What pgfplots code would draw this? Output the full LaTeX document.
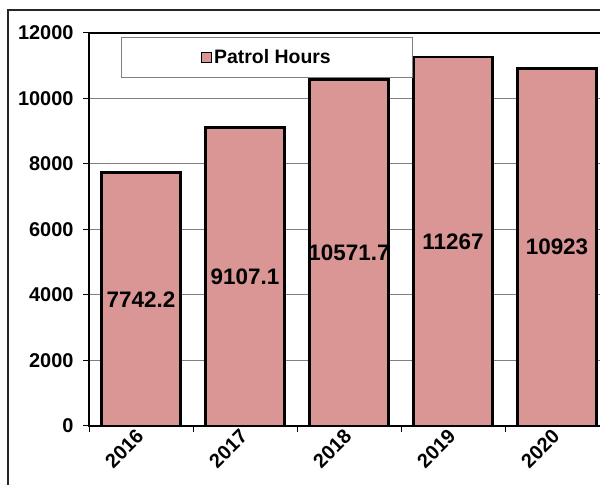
\documentclass[border=0pt]{standalone}
\usepackage{fontspec}
\setmainfont{Liberation Sans}
\usepackage{pgfplots}
\pgfplotsset{compat=1.18}
\usepackage{pgfplotstable}
\definecolor{barpink}{RGB}{217,150,148}

\pgfplotstableread{
x year y
0 2016 7742.2
1 2017 9107.1
2 2018 10571.7
3 2019 11267
4 2020 10923
}\patrol

\begin{document}
\begin{tikzpicture}[x=1bp,y=1bp]
\useasboundingbox (0,0) rectangle (600,485);
\clip (0,0) rectangle (600,485);
\draw[line width=1.6bp, black!85] (8,-5) -- (8,475) -- (610,475);
\begin{axis}[
    at={(89bp,59bp)}, anchor=south west,
    scale only axis, width=520bp, height=393bp,
    xmin=-0.5, xmax=4.5, ymin=0, ymax=12000,
    axis line style={line width=1.6bp},
    ytick={0,2000,...,12000},
    xtick={0,...,4}, xticklabels={2016,2017,2018,2019,2020},
    major x tick style={draw=none},
    minor xtick={-0.5,0.5,1.5,2.5,3.5,4.5},
    xtick pos=lower, ytick pos=left,
    tick align=outside, major tick length=6bp, minor tick length=6bp,
    every tick/.style={black, line width=1bp},
    ymajorgrids, grid style={gray, line width=1bp},
    scaled y ticks=false,
    /pgf/number format/assume math mode=true,
    /pgf/number format/1000 sep={},
    ticklabel style={font=\fontsize{20}{24}\selectfont\bfseries},
    yticklabel style={xshift=-6bp},
    xticklabel style={rotate=45, anchor=east, xshift=2bp},
    legend style={at={(0.0615,0.99)}, anchor=north west, draw=gray, line width=1bp,
        inner xsep=79.5bp, inner ysep=10.5bp,
        font=\fontsize{19.5}{22}\selectfont\bfseries},
    legend image code/.code={\draw[fill=barpink, draw=black, line width=1.2bp] (0bp,-5bp) rectangle (10bp,5bp);},
]
\addplot[ybar, bar width=0.76, fill=barpink, draw=black, line width=2.6bp]
    table[x=x, y=y]{\patrol};
\addlegendentry{Patrol Hours}
\addplot[draw=none, mark=none, forget plot,
    point meta=\thisrow{y},
    nodes near coords,
    every node near coord/.append style={anchor=center,
        font=\fontsize{22.5}{26}\selectfont\bfseries,
        /pgf/number format/fixed, /pgf/number format/precision=1}]
    table[x=x, y expr=\thisrow{y}/2]{\patrol};
\end{axis}
\end{tikzpicture}
\end{document}
